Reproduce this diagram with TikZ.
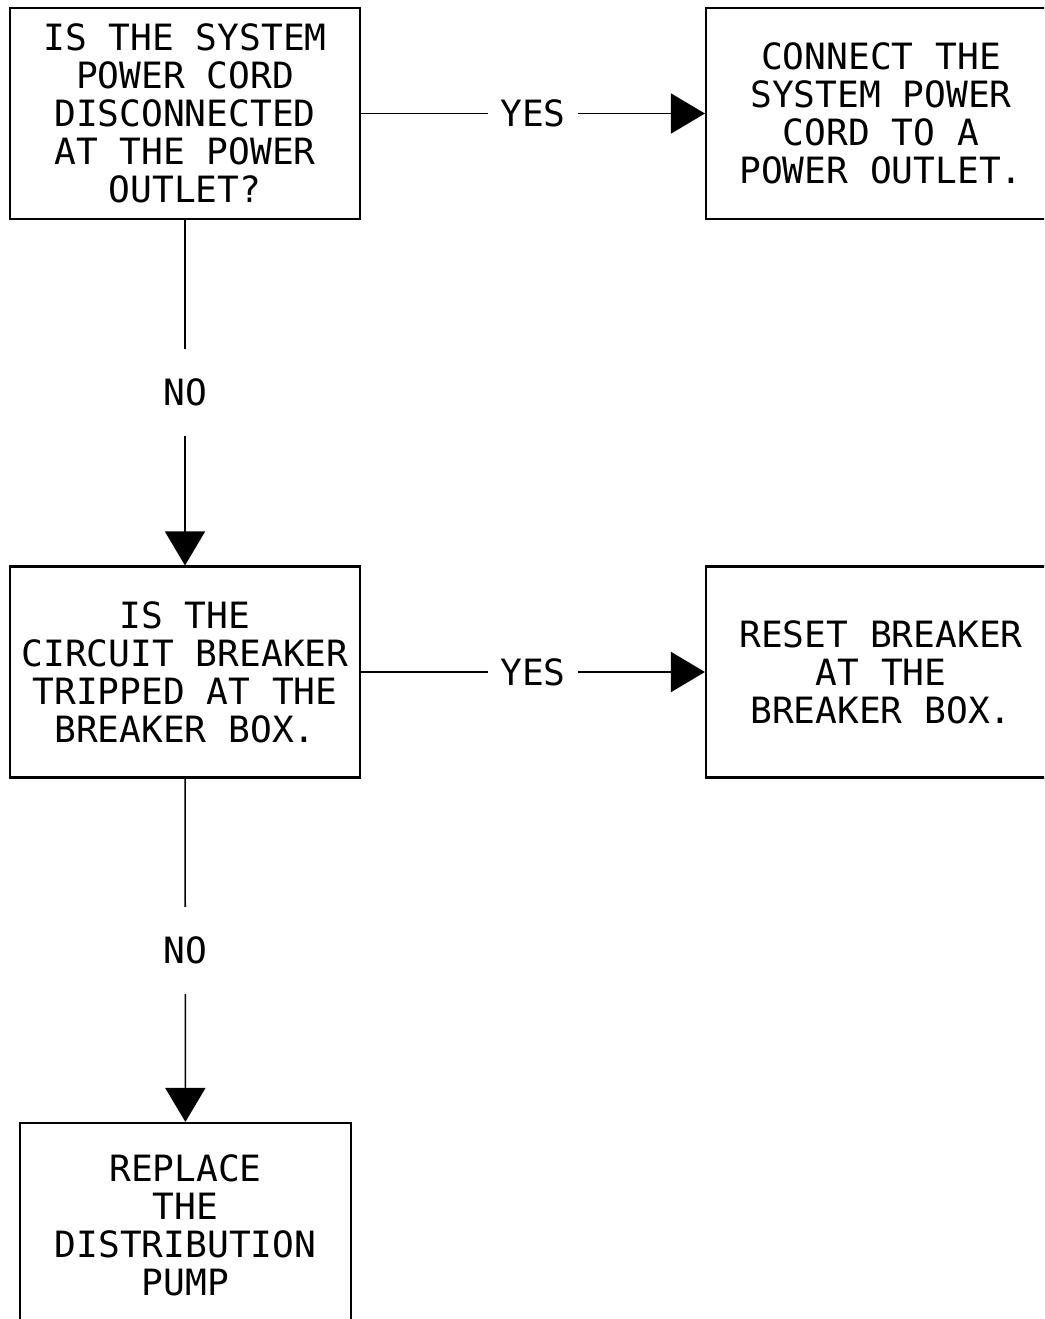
\documentclass[tikz,border=0pt]{standalone}
\usepackage{fontspec}
\setmonofont{DejaVu Sans Mono}
\usetikzlibrary{arrows.meta}

\begin{document}
\begin{tikzpicture}
  \tikzstyle{box}   = [draw=black,line width=0.6pt,minimum width=3.5cm,minimum height=2.11cm,
                       align=center,font=\ttfamily\fontsize{10.3pt}{10.8pt}\selectfont]
  \tikzstyle{lblH}  = [fill=white,inner xsep=0.12cm,inner ysep=0pt,font=\ttfamily\fontsize{10.3pt}{10.8pt}\selectfont]
  \tikzstyle{lblV}  = [fill=white,inner xsep=0pt,inner ysep=0.3cm,font=\ttfamily\fontsize{10.3pt}{10.8pt}\selectfont]
  \tikzstyle{flow}  = [line width=0.45pt,-{Triangle[length=0.34cm,width=0.4cm]}]
  \useasboundingbox (0,0) rectangle (10.44,-13.19);
  \clip (0,0) rectangle (10.44,-13.19);
  % question boxes on the left, actions on the right
  \path (1.85,-1.135) node[box](q1) {IS THE SYSTEM\\POWER CORD\\DISCONNECTED\\AT THE POWER\\OUTLET?};
  \path (8.81,-1.135) node[box](a1) {CONNECT THE\\SYSTEM POWER\\CORD TO A\\POWER OUTLET.};
  \path (1.85,-6.72)  node[box](q2) {IS THE\\CIRCUIT BREAKER\\TRIPPED AT THE\\BREAKER BOX.};
  \path (8.81,-6.72)  node[box](a2) {RESET BREAKER\\AT THE\\BREAKER BOX.};
  \path (1.855,-12.255) node[box,minimum width=3.31cm,minimum height=2.05cm](a3) {REPLACE\\THE\\DISTRIBUTION\\PUMP};
  \draw[flow] (q1) -- (a1) node[lblH,midway] {YES};
  \draw[flow] (q1) -- (q2) node[lblV,midway] {NO};
  \draw[flow] (q2) -- (a2) node[lblH,midway] {YES};
  \draw[flow] (q2) -- (a3) node[lblV,midway] {NO};
\end{tikzpicture}
\end{document}
